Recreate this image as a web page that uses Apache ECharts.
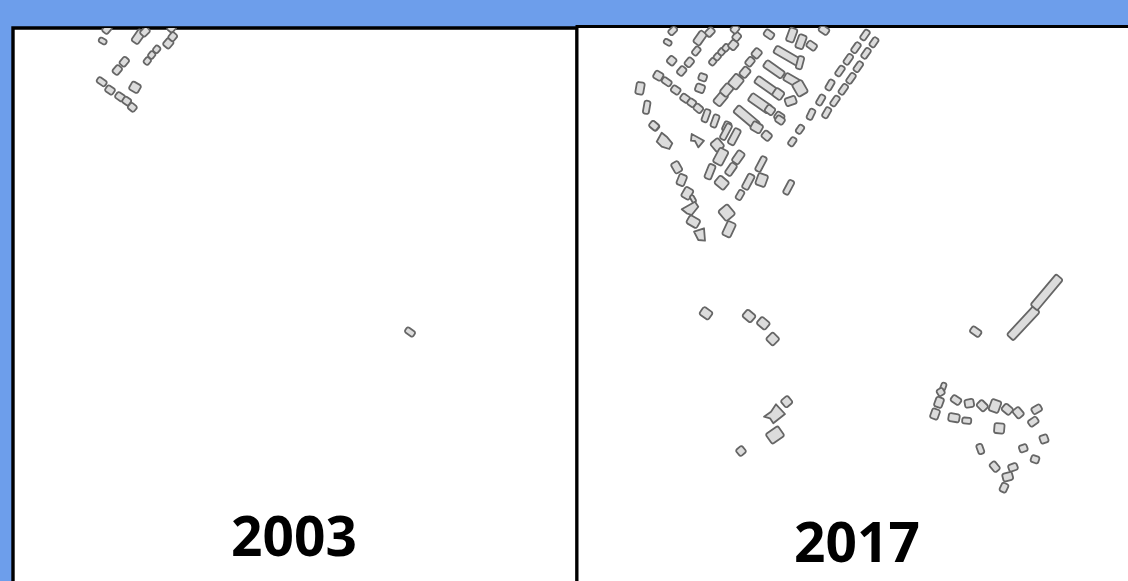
<!DOCTYPE html>
<html>
<head>
<meta charset="utf-8">
<style>html,body{margin:0;padding:0;background:#6d9eeb}#c{width:1128px;height:581px}</style>
<script src="https://cdn.jsdelivr.net/npm/echarts@6/dist/echarts.min.js"></script>
</head>
<body>
<div id="c"></div>
<script>
const panelTitles = ['2003', '2017'];
// Building footprints: [centre x, centre y, length, width, angle in degrees]
const buildings2003 = [
  [107,29,9,7,50],[102.7,41,8,5,-30],[138.3,36.7,14,8,55],[145,31.7,9,7,45],[171.7,28,8,7,50],
  [147.3,61,7,6,50],[151.7,55,7,6,50],[156.7,49.3,7,6,50],[168.3,43.3,9,8,50],[172.7,36.7,8,7,50],
  [124.3,61.7,9,7,50],[117.3,70,9,7,50],[101.7,81.7,10,6,-35],[110,90,9,7,-35],[120,96.7,9,7,-35],
  [126.7,101,8,7,-35],[132.3,107.3,8,7,-40],[135,87.3,10,9,-30],[410,332,10,6,-35]
];
const buildings2017 = [
  [672.7,30.7,9,6,45],[667.7,42.3,8,5,-30],[700,38,14,8,55],[710,32,9,7,45],[696.3,51,9,6,50],
  [671.7,60.7,8,8,50],[689.3,62.3,9,7,50],[681.7,71,9,7,50],[712.7,61.7,7,6,50],[717.3,56.7,7,6,50],
  [721.7,51.7,7,6,50],[726,47.7,7,6,50],[733.3,45,9,8,50],[736.7,36.7,8,7,50],[735,29,8,7,50],
  [658.3,75.7,9,8,-30],[640,88.3,12,8,80],[646.7,107.3,13,6,80],[654.5,126,9,7,-40],[666.7,81.7,10,6,-35],
  [675.7,90,9,7,-35],[685,98.3,9,7,-35],[691.7,102.7,8,7,-35],[698.3,108.3,9,7,-40],[706,115.7,13,6,70],
  [715,121,13,6,70],[702.7,77.3,8,7,-20],[700,88.3,9,8,-20],[720.7,98.7,14,9,50],[726.7,90,12,9,50],
  [736,81.7,13,11,50],[745,72.3,10,8,50],[750,61.7,9,7,50],[756.7,53.3,9,8,50],[769,34.3,10,7,-35],
  [791.7,35,14,8,70],[801,41.7,14,8,70],[811.7,45.7,10,7,-35],[824,30,10,7,-35],
  [788,56.3,30,8,-30],[800,62.7,13,6,75],[774,69.3,22,8,-35],[791.7,80,16,8,-30],[800,88.3,14,11,-60],
  [766,85.7,24,8,-35],[778.3,94,10,9,-35],[790.7,101,11,8,20],[760,103.3,24,9,-35],[770,110,9,8,-35],
  [779.3,116.7,9,8,-35],[746.7,117.3,28,9,-40],[726.7,126.7,10,7,65],
  [865,35,11,6,55],[856,47.7,11,6,55],[848.3,59.3,11,6,55],[840,71,11,6,55],[830,85,11,6,60],
  [820.7,100,11,6,60],[811,114.3,11,6,65],[874,42.3,10,6,55],[866,53.3,11,6,55],[858.3,66.7,11,6,55],
  [851,78.3,11,6,55],[843.3,89.3,11,6,55],[835,101,11,6,55],[826.7,112.7,11,6,60],
  [756.7,127.3,11,9,-30],[766.7,135.7,9,8,-40],[780,120,9,7,-35],[800,129.3,9,6,55],[792.3,141.7,9,6,55],
  [654,125.7,9,7,-40],[717.3,145,11,10,-50],[726,131.7,17,6,62],[734.3,136.7,17,7,62],[720.7,156.7,16,10,62],
  [738.3,157.3,13,8,55],[731,169.3,13,7,55],[761,164,16,6,62],[710,171.7,15,7,68],[676.7,167.3,11,8,-60],
  [681.7,180,11,8,68],[687.3,193.3,11,9,60],[693,199,8,4,-60],[693.3,221.7,12,9,-30],[721.7,182.7,12,10,-40],
  [748.3,181.7,16,7,62],[761.7,180,12,10,70],[740,195,10,6,60],[788.7,187.3,15,6,62],[726.7,212.7,13,12,-50],
  [729,229.3,15,9,65],[706,313.3,11,9,-35],[749,316,11,9,-40],[763.3,323.3,11,9,-40],[772.7,339,10,10,-45],
  [786.7,401.7,9,9,40],[775,435,15,12,35],[741,451,8,8,40],[943.3,386.7,8,5,70],[940.7,392,7,7,30],
  [939,402.3,10,8,70],[935,414,10,8,70],[956,400,10,7,-35],[969.3,403.3,9,8,10],[982.3,405.7,10,8,-45],
  [995,406,12,10,70],[1007.3,409.3,10,8,-40],[1018.3,412.7,10,8,-50],[1036.7,409.3,10,7,30],
  [1033.3,421.7,10,7,35],[954,417.7,11,8,-10],[966.7,420.7,9,6,-5],[999.3,428.3,10,10,-5],[1044,439,8,8,20],
  [1023.3,448.3,8,7,20],[1035,459.3,8,7,-20],[980.3,449,10,6,-70],[994.7,466.7,10,7,-50],[1013,467.3,9,7,20],
  [1007.7,476.7,10,8,15],[1004,487.7,9,7,65],[975.7,331.7,11,7,-35],[1023.3,323.3,39,9,47],[1046.7,292.3,40,9,50]
];
// Footprints that are not rectangles: lists of [x, y] corners
const irregular2017 = [
  [[776,404.3],[785,414],[773.3,423.3],[770,418.3],[764,416.7],[771,411.7]],
  [[661.7,132.7],[666.7,136.7],[672.3,143.3],[669.3,149],[661.7,146.7],[656.7,141.7]],
  [[691.7,134],[704,140.7],[698.3,147.3],[695,141],[691,140.7]],
  [[694,231.7],[704,228.3],[705,240.7],[698.3,240]],
  [[681.7,209.3],[695,201.7],[698.3,206.7],[691.7,215],[686.7,213.3]]
];

const style = {fill:'#dcdcdc', stroke:'#666666', lineWidth:1.8, lineJoin:'round'};
function renderRect(params, api){
  const c = api.coord([api.value(0), api.value(1)]);
  const s = api.size([1,1]);
  const l = api.value(2)*s[0], w = api.value(3)*s[1];
  return {type:'rect', x:c[0], y:c[1], rotation:api.value(4)*Math.PI/180,
    shape:{x:-l/2, y:-w/2, width:l, height:w, r:2}, style};
}
function renderPoly(params, api){
  const pts = irregular2017[params.dataIndex].map(p => api.coord(p));
  return {type:'polygon', shape:{points:pts}, style};
}
const chart = echarts.init(document.getElementById('c'), null, {renderer:'canvas'});
chart.setOption({
  animation:false,
  backgroundColor:'#6d9eeb',
  title:[
    {text:panelTitles[0], left:289, top:535, textAlign:'center', textVerticalAlign:'middle',
     textStyle:{fontFamily:'Open Sans', fontWeight:'bold', fontSize:55, color:'#000'}},
    {text:panelTitles[1], left:852, top:541, textAlign:'center', textVerticalAlign:'middle',
     textStyle:{fontFamily:'Open Sans', fontWeight:'bold', fontSize:55, color:'#000'}}
  ],
  grid:[
    {left:13, top:28, width:564, height:600, outerBoundsMode:'none', show:true, backgroundColor:'#fff', borderColor:'#000', borderWidth:3.4, z:1},
    {left:577, top:26.5, width:600, height:600, outerBoundsMode:'none', show:true, backgroundColor:'#fff', borderColor:'#000', borderWidth:3, z:1}
  ],
  xAxis:[
    {gridIndex:0, type:'value', min:13, max:577, show:false},
    {gridIndex:1, type:'value', min:577, max:1177, show:false}
  ],
  yAxis:[
    {gridIndex:0, type:'value', min:28, max:628, inverse:true, show:false},
    {gridIndex:1, type:'value', min:26.5, max:626.5, inverse:true, show:false}
  ],
  series:[
    {type:'custom', name:'2003', xAxisIndex:0, yAxisIndex:0, clip:true, coordinateSystem:'cartesian2d',
     renderItem:renderRect, encode:{x:0,y:1}, data:buildings2003, silent:true, z:3},
    {type:'custom', name:'2017', xAxisIndex:1, yAxisIndex:1, clip:true, coordinateSystem:'cartesian2d',
     renderItem:renderRect, encode:{x:0,y:1}, data:buildings2017, silent:true, z:3},
    {type:'custom', name:'2017 irregular', xAxisIndex:1, yAxisIndex:1, clip:true, coordinateSystem:'cartesian2d',
     renderItem:renderPoly, data:irregular2017.map(p => p[0]), silent:true, z:3}
  ]
});
</script>
</body>
</html>
